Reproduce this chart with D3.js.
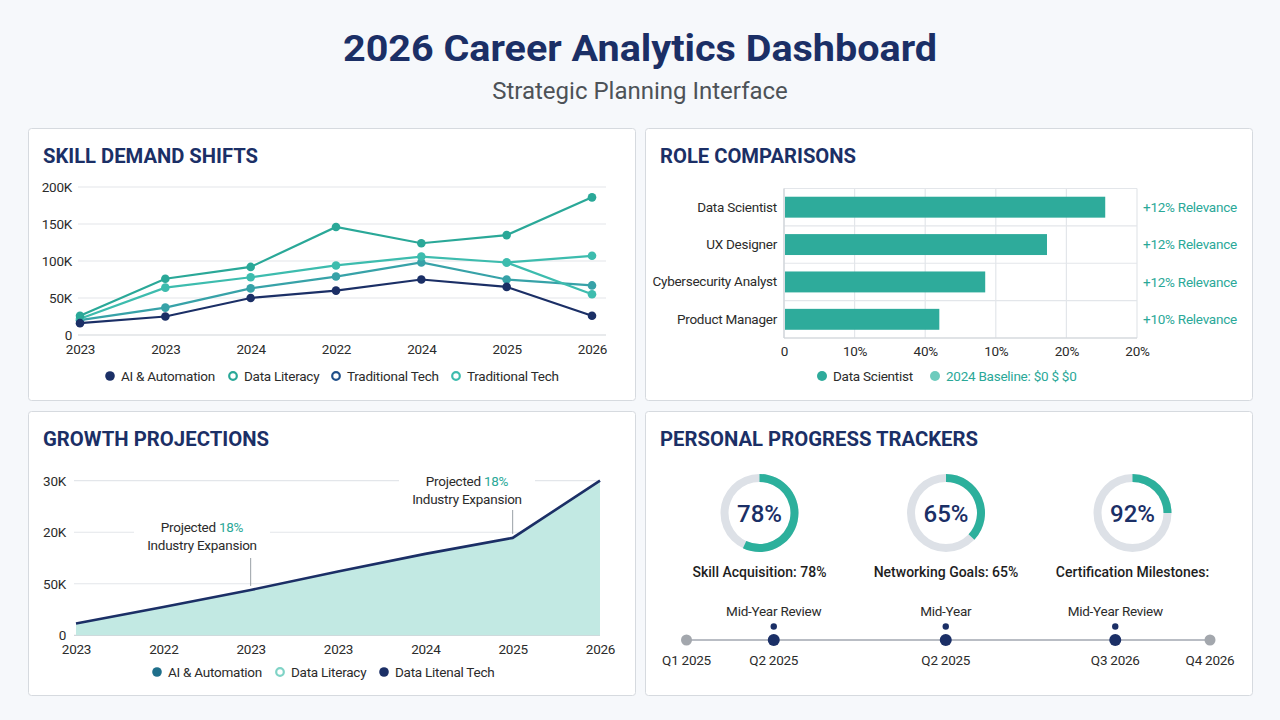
<!DOCTYPE html>
<html>
<head>
<meta charset="utf-8">
<script src="https://cdn.jsdelivr.net/npm/d3@7"></script>
<style>
  html, body { margin: 0; padding: 0; background: #f6f8fb; }
  svg { display: block; font-family: Roboto, "Noto Sans", sans-serif; }
</style>
</head>
<body>
<div id="dash"></div>
<script>
// ---- data ----
var skillYears = ["2023", "2023", "2024", "2022", "2024", "2025", "2026"];
var aiAutomation = [16, 25, 50, 60, 75, 65, 26];
var dataLiteracy = [26, 76, 92, 146, 124, 135, 186];
var tradTechA = [20, 37, 63, 79, 98, 75, 67];
var tradTechB = [22, 64, 78, 94, 106, 98, 107];
var tradTechBranch = [null, null, null, null, null, 98, 55];
var skillTicks = [0, 50, 100, 150, 200];

var roles = ["Data Scientist", "UX Designer", "Cybersecurity Analyst", "Product Manager"];
var roleScores = [91, 74.5, 57, 44];
var roleNotes = ["+12% Relevance", "+12% Relevance", "+12% Relevance", "+10% Relevance"];
var roleTicks = [0, 20, 40, 60, 80, 100];
var roleTickLabels = ["0", "10%", "40%", "10%", "20%", "20%"];

var growthYears = ["2023", "2022", "2023", "2023", "2024", "2025", "2026"];
var growthValues = [2.3, 5.5, 8.8, 12.4, 15.8, 18.9, 30];
var growthTicks = [0, 10, 20, 30];
var growthTickLabels = ["0", "50K", "20K", "30K"];

var trackers = ["Skill Acquisition: 78%", "Networking Goals: 65%", "Certification Milestones:"];
var trackerPct = ["78%", "65%", "92%"];
var ringFill = [0.57, 0.37, 0.25];

var milestoneMonth = [0, 3.5, 10.4, 17.2, 21];
var milestoneLabels = ["Q1 2025", "Q2 2025", "Q2 2025", "Q3 2026", "Q4 2026"];
var milestoneNotes = ["", "Mid-Year Review", "Mid-Year", "Mid-Year Review", ""];

// ---- colours ----
var navy = "#1b2f66";
var teal = "#2aa898";
var tealMid = "#37a2a8";
var tealLight = "#3dbcae";
var grid = "#e3e6ea";
var ink = "#2b2b2b";
var FS = 13.5, LS = -0.25;   // small text size / tracking (reference font is narrow)

var W = 1280, H = 720;
var svg = d3.select("#dash").append("svg").attr("width", W).attr("height", H);
svg.append("rect").attr("width", W).attr("height", H).attr("fill", "#f6f8fb");

// header
svg.append("text").attr("x", 640).attr("y", 61).attr("text-anchor", "middle")
  .attr("font-size", 36).attr("font-weight", 700).attr("fill", navy)
  .attr("textLength", 594).attr("lengthAdjust", "spacingAndGlyphs")
  .text("2026 Career Analytics Dashboard");
svg.append("text").attr("x", 640).attr("y", 99).attr("text-anchor", "middle")
  .attr("font-size", 24).attr("fill", "#4d5257")
  .text("Strategic Planning Interface");

// panels
var panels = [
  {x: 28, y: 128, w: 607, h: 272, title: "SKILL DEMAND SHIFTS", tw: 215},
  {x: 645, y: 128, w: 607, h: 272, title: "ROLE COMPARISONS", tw: 196},
  {x: 28, y: 411, w: 607, h: 284, title: "GROWTH PROJECTIONS", tw: 226},
  {x: 645, y: 411, w: 607, h: 284, title: "PERSONAL PROGRESS TRACKERS", tw: 318}
];
panels.forEach(function(p){
  svg.append("rect").attr("x", p.x + 0.5).attr("y", p.y + 0.5).attr("width", p.w).attr("height", p.h)
    .attr("rx", 3).attr("fill", "#ffffff").attr("stroke", "#d6dadf");
  svg.append("text").attr("x", p.x + 15).attr("y", p.y + 35)
    .attr("font-size", 21).attr("font-weight", 700).attr("fill", navy)
    .attr("textLength", p.tw).attr("lengthAdjust", "spacingAndGlyphs")
    .text(p.title);
});

function styleAxis(g, color){
  g.select(".domain").remove();
  g.selectAll("text").attr("font-size", FS).attr("letter-spacing", LS).attr("fill", color || ink)
    .attr("font-family", "Roboto, 'Noto Sans', sans-serif");
}

function small(sel){
  return sel.attr("font-size", FS).attr("letter-spacing", LS);
}

// ---- Skill demand shifts ----
(function(){
  var x = d3.scaleLinear().domain([0, 6]).range([80, 592]);
  var y = d3.scaleLinear().domain([0, 200]).range([335, 187]);

  svg.append("g").selectAll("line").data(skillTicks).enter().append("line")
    .attr("x1", 78).attr("x2", 606)
    .attr("y1", function(d){ return y(d); }).attr("y2", function(d){ return y(d); })
    .attr("stroke", function(d){ return d === 0 ? "#d2d5da" : grid; }).attr("stroke-width", 1.2);

  svg.append("g").attr("transform", "translate(80,0)")
    .call(d3.axisLeft(y).tickValues(skillTicks).tickSize(0).tickPadding(8)
      .tickFormat(function(d){ return d ? d + "K" : "0"; }))
    .call(styleAxis);

  svg.append("g").attr("transform", "translate(0,335)")
    .call(d3.axisBottom(x).tickValues(d3.range(7)).tickSize(0).tickPadding(9)
      .tickFormat(function(i){ return skillYears[i]; }))
    .call(styleAxis);

  var series = [
    {v: tradTechA, c: tealMid},
    {v: tradTechB, c: tealLight},
    {v: tradTechBranch, c: tealLight},
    {v: dataLiteracy, c: teal},
    {v: aiAutomation, c: navy}
  ];
  var line = d3.line()
    .defined(function(d){ return d != null; })
    .x(function(d, i){ return x(i); })
    .y(function(d){ return y(d); });

  series.forEach(function(s){
    svg.append("path").attr("d", line(s.v)).attr("fill", "none")
      .attr("stroke", s.c).attr("stroke-width", 2.2);
    svg.append("g").selectAll("circle")
      .data(s.v.map(function(d, i){ return {v: d, i: i}; }).filter(function(d){ return d.v != null; }))
      .enter().append("circle")
      .attr("cx", function(d){ return x(d.i); })
      .attr("cy", function(d){ return y(d.v); })
      .attr("r", 4.3).attr("fill", s.c);
  });

  var legend = [
    {label: "AI & Automation", c: navy, open: false, x: 110},
    {label: "Data Literacy", c: teal, open: true, x: 233},
    {label: "Traditional Tech", c: "#1f4f8a", open: true, x: 336},
    {label: "Traditional Tech", c: tealLight, open: true, x: 456}
  ];
  var lg = svg.append("g").selectAll("g").data(legend).enter().append("g")
    .attr("transform", function(d){ return "translate(" + d.x + ",376)"; });
  lg.append("circle").attr("r", function(d){ return d.open ? 3.8 : 4.8; })
    .attr("fill", function(d){ return d.open ? "#fff" : d.c; })
    .attr("stroke", function(d){ return d.c; })
    .attr("stroke-width", function(d){ return d.open ? 2.2 : 0; });
  lg.append("text").attr("x", 11).attr("dy", "0.35em").call(small).attr("fill", ink)
    .text(function(d){ return d.label; });
})();

// ---- Role comparisons ----
(function(){
  var x = d3.scaleLinear().domain([0, 100]).range([784, 1137]);
  var y = d3.scaleBand().domain(roles).range([188.5, 338]).paddingInner(0.44).paddingOuter(0.22);

  var band = (338 - 188.5) / roles.length;
  var frame = svg.append("g");
  frame.selectAll("line.v").data(roleTicks).enter().append("line")
    .attr("x1", function(d){ return x(d); }).attr("x2", function(d){ return x(d); })
    .attr("y1", 188.5).attr("y2", 338).attr("stroke", grid).attr("stroke-width", 1.2);
  frame.selectAll("line.h").data(d3.range(roles.length + 1)).enter().append("line")
    .attr("x1", 784).attr("x2", 1137)
    .attr("y1", function(i){ return 188.5 + i * band; }).attr("y2", function(i){ return 188.5 + i * band; })
    .attr("stroke", grid).attr("stroke-width", 1.2);
  frame.append("line").attr("x1", 784).attr("x2", 784).attr("y1", 188.5).attr("y2", 338)
    .attr("stroke", "#cfd3d8").attr("stroke-width", 1.2);
  frame.append("line").attr("x1", 784).attr("x2", 1137).attr("y1", 338).attr("y2", 338)
    .attr("stroke", "#cfd3d8").attr("stroke-width", 1.2);

  svg.append("g").selectAll("rect").data(roles).enter().append("rect")
    .attr("x", x(0) + 1).attr("y", function(d){ return y(d); })
    .attr("width", function(d, i){ return x(roleScores[i]) - x(0) - 1; })
    .attr("height", y.bandwidth()).attr("fill", "#2eab9b");

  svg.append("g").attr("transform", "translate(784,0)")
    .call(d3.axisLeft(y).tickSize(0).tickPadding(7))
    .call(styleAxis);

  svg.append("g").attr("transform", "translate(0,338)")
    .call(d3.axisBottom(x).tickValues(roleTicks).tickSize(0).tickPadding(8)
      .tickFormat(function(d, i){ return roleTickLabels[i]; }))
    .call(styleAxis);

  svg.append("g").selectAll("text").data(roles).enter().append("text")
    .attr("x", 1143).attr("y", function(d){ return y(d) + y.bandwidth() / 2; })
    .attr("dy", "0.35em").call(small).attr("fill", teal)
    .text(function(d, i){ return roleNotes[i]; });

  var legend = [
    {label: "Data Scientist", c: "#2eab9b", tc: ink, x: 822},
    {label: "2024 Baseline: $0 $ $0", c: "#6dcbbd", tc: teal, x: 935}
  ];
  var lg = svg.append("g").selectAll("g").data(legend).enter().append("g")
    .attr("transform", function(d){ return "translate(" + d.x + ",376)"; });
  lg.append("circle").attr("r", 5).attr("fill", function(d){ return d.c; });
  lg.append("text").attr("x", 11).attr("dy", "0.35em").call(small)
    .attr("fill", function(d){ return d.tc; }).text(function(d){ return d.label; });
})();

// ---- Growth projections ----
(function(){
  var x = d3.scaleLinear().domain([0, 6]).range([76, 600]);
  var y = d3.scaleLinear().domain([0, 30]).range([635.3, 480.7]);

  svg.append("g").selectAll("line").data(growthTicks).enter().append("line")
    .attr("x1", 74).attr("x2", 600)
    .attr("y1", function(d){ return y(d); }).attr("y2", function(d){ return y(d); })
    .attr("stroke", function(d){ return d === 0 ? "#d2d5da" : grid; }).attr("stroke-width", 1.2);

  svg.append("g").attr("transform", "translate(74,0)")
    .call(d3.axisLeft(y).tickValues(growthTicks).tickSize(0).tickPadding(8)
      .tickFormat(function(d, i){ return growthTickLabels[i]; }))
    .call(styleAxis);

  svg.append("g").attr("transform", "translate(0,635)")
    .call(d3.axisBottom(x).tickValues(d3.range(7)).tickSize(0).tickPadding(9)
      .tickFormat(function(i){ return growthYears[i]; }))
    .call(styleAxis);

  var area = d3.area().x(function(d, i){ return x(i); }).y0(y(0)).y1(function(d){ return y(d); });
  var line = d3.line().x(function(d, i){ return x(i); }).y(function(d){ return y(d); });
  svg.append("path").attr("d", area(growthValues)).attr("fill", "#c2e9e3");
  svg.append("path").attr("d", line(growthValues)).attr("fill", "none")
    .attr("stroke", navy).attr("stroke-width", 2.6);

  // callouts
  var notes = [{i: 2, cx: 202, ty: 527, y1: 558}, {i: 5, cx: 467, ty: 481, y1: 510}];
  notes.forEach(function(n){
    svg.append("line").attr("x1", x(n.i)).attr("x2", x(n.i))
      .attr("y1", n.y1).attr("y2", y(growthValues[n.i]) - 4)
      .attr("stroke", "#9aa0a6").attr("stroke-width", 1);
    svg.append("rect").attr("x", n.cx - 68).attr("y", n.ty - 11).attr("width", 136).attr("height", 40)
      .attr("fill", "#fff");
    var t = svg.append("text").attr("x", n.cx).attr("y", n.ty).attr("dy", "0.35em")
      .attr("text-anchor", "middle").call(small).attr("fill", ink);
    t.append("tspan").text("Projected ");
    t.append("tspan").attr("fill", teal).text("18%");
    svg.append("text").attr("x", n.cx).attr("y", n.ty + 18).attr("dy", "0.35em")
      .attr("text-anchor", "middle").call(small).attr("fill", ink)
      .text("Industry Expansion");
  });

  var legend = [
    {label: "AI & Automation", c: "#1f6f8b", open: false, x: 157},
    {label: "Data Literacy", c: "#7fd3c6", open: true, x: 280},
    {label: "Data Litenal Tech", c: navy, open: false, x: 384}
  ];
  var lg = svg.append("g").selectAll("g").data(legend).enter().append("g")
    .attr("transform", function(d){ return "translate(" + d.x + ",672)"; });
  lg.append("circle").attr("r", function(d){ return d.open ? 3.8 : 4.8; })
    .attr("fill", function(d){ return d.open ? "#fff" : d.c; })
    .attr("stroke", function(d){ return d.c; })
    .attr("stroke-width", function(d){ return d.open ? 2.2 : 0; });
  lg.append("text").attr("x", 11).attr("dy", "0.35em").call(small).attr("fill", ink)
    .text(function(d){ return d.label; });
})();

// ---- Personal progress trackers ----
(function(){
  var cx = d3.scalePoint().domain(d3.range(3)).range([759.5, 1132.5]);
  var outer = 39, inner = 31;
  var track = d3.arc().innerRadius(inner).outerRadius(outer).startAngle(0).endAngle(2 * Math.PI);
  var fill = d3.arc().innerRadius(inner).outerRadius(outer).startAngle(0);

  var g = svg.append("g").selectAll("g").data(d3.range(3)).enter().append("g")
    .attr("transform", function(i){ return "translate(" + cx(i) + ",513)"; });
  g.append("path").attr("d", track()).attr("fill", "#dde1e7");
  g.append("path").attr("d", function(i){ return fill({endAngle: ringFill[i] * 2 * Math.PI}); })
    .attr("fill", "#2cb09c");
  g.append("text").attr("text-anchor", "middle").attr("dy", "0.36em")
    .attr("font-size", 24).attr("font-weight", 500).attr("fill", navy)
    .text(function(i){ return trackerPct[i]; });
  g.append("text").attr("text-anchor", "middle").attr("y", 59).attr("dy", "0.35em")
    .attr("font-size", 14).attr("font-weight", 500).attr("fill", "#1e1e1e")
    .text(function(i){ return trackers[i]; });

  // timeline
  var t = d3.scaleLinear().domain([0, 21]).range([686.5, 1210]);
  svg.append("line").attr("x1", t(0)).attr("x2", t(21)).attr("y1", 640).attr("y2", 640)
    .attr("stroke", "#b9bdc4").attr("stroke-width", 2);
  var m = svg.append("g").selectAll("g").data(milestoneMonth).enter().append("g")
    .attr("transform", function(d){ return "translate(" + t(d) + ",640)"; });
  m.append("circle").attr("r", function(d, i){ return milestoneNotes[i] ? 6 : 5.5; })
    .attr("fill", function(d, i){ return milestoneNotes[i] ? navy : "#a3a7ad"; });
  m.filter(function(d, i){ return milestoneNotes[i]; }).append("circle")
    .attr("cy", -13.5).attr("r", 3.2).attr("fill", navy);
  m.append("text").attr("text-anchor", "middle").attr("y", -28.5).attr("dy", "0.35em")
    .call(small).attr("fill", ink).text(function(d, i){ return milestoneNotes[i]; });
  m.append("text").attr("text-anchor", "middle").attr("y", 20.5).attr("dy", "0.35em")
    .call(small).attr("fill", ink).text(function(d, i){ return milestoneLabels[i]; });
})();
</script>
</body>
</html>
